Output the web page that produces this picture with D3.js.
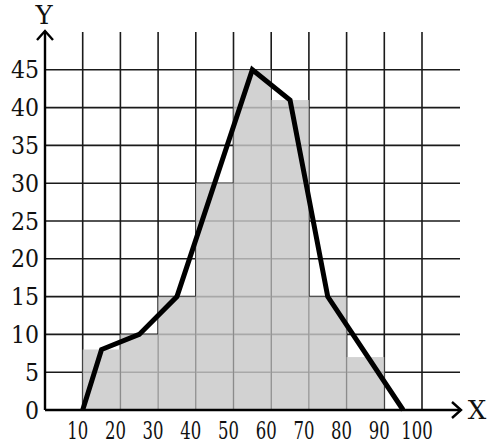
<!DOCTYPE html>
<html>
<head>
<meta charset="utf-8">
<script src="https://cdn.jsdelivr.net/npm/d3@7"></script>
<style>
  body { margin: 0; background: #fff; }
  text { font-family: "DejaVu Serif", "Liberation Serif", serif; fill: #111; }
</style>
</head>
<body>
<svg id="chart"></svg>
<script>
// histogram classes and counts
var binStarts = [10, 20, 30, 40, 50, 60, 70, 80],
  binCounts = [8, 10, 15, 30, 45, 41, 15, 7];

// frequency polygon
var polyX = [10, 15, 25, 35, 55, 65, 75, 95],
  polyY = [0, 8, 10, 15, 45, 41, 15, 0];

var xTicks = [10, 20, 30, 40, 50, 60, 70, 80, 90, 100],
  yTicks = [0, 5, 10, 15, 20, 25, 30, 35, 40, 45];

var vWidth = 488,
  vHeight = 448;

var x = d3.scaleLinear().domain([0, 100]).range([45, 422]);
var y = d3.scaleLinear().domain([0, 50]).range([410, 32]);

var svg = d3.select('#chart')
  .attr('width', vWidth)
  .attr('height', vHeight);

// grid
svg.append('g').selectAll('line')
  .data(xTicks)
  .enter().append('line')
  .attr('x1', function(d) { return x(d); })
  .attr('x2', function(d) { return x(d); })
  .attr('y1', y(50))
  .attr('y2', y(0))
  .attr('stroke', '#1a1a1a')
  .attr('stroke-width', 1.6);

svg.append('g').selectAll('line')
  .data(yTicks.filter(function(d) { return d > 0; }))
  .enter().append('line')
  .attr('x1', x(0))
  .attr('x2', 460)
  .attr('y1', function(d) { return y(d); })
  .attr('y2', function(d) { return y(d); })
  .attr('stroke', '#1a1a1a')
  .attr('stroke-width', 1.6);

// bars (grid shows through a bit)
svg.append('g').selectAll('rect')
  .data(binStarts)
  .enter().append('rect')
  .attr('x', function(d) { return x(d); })
  .attr('width', function(d) { return x(d + 10) - x(d); })
  .attr('y', function(d, i) { return y(binCounts[i]); })
  .attr('height', function(d, i) { return y(0) - y(binCounts[i]); })
  .attr('fill', 'rgb(200,200,200)')
  .attr('fill-opacity', 0.82);

// axes
svg.append('line')
  .attr('x1', x(0)).attr('x2', 461)
  .attr('y1', y(0)).attr('y2', y(0))
  .attr('stroke', '#000').attr('stroke-width', 2.4);
svg.append('path')
  .attr('d', 'M452,402 L461,' + y(0) + ' L452,418')
  .attr('fill', 'none').attr('stroke', '#000').attr('stroke-width', 2.4);

svg.append('line')
  .attr('x1', x(0)).attr('x2', x(0))
  .attr('y1', y(0)).attr('y2', 31)
  .attr('stroke', '#000').attr('stroke-width', 2.4);
svg.append('path')
  .attr('d', 'M37,40 L' + x(0) + ',31 L53,40')
  .attr('fill', 'none').attr('stroke', '#000').attr('stroke-width', 2.4);

// frequency polygon
var line = d3.line()
  .x(function(d) { return x(d[0]); })
  .y(function(d) { return y(d[1]); });

svg.append('path')
  .datum(polyX.map(function(d, i) { return [d, polyY[i]]; }))
  .attr('d', line)
  .attr('fill', 'none')
  .attr('stroke', '#000')
  .attr('stroke-width', 5)
  .attr('stroke-linejoin', 'miter');

// tick labels
svg.append('g').selectAll('text')
  .data(yTicks)
  .enter().append('text')
  .attr('transform', function(d) { return 'translate(39,' + y(d) + ') scale(0.92,1)'; })
  .attr('dy', '0.36em')
  .attr('text-anchor', 'end')
  .style('font-size', '24px')
  .text(function(d) { return d; });

svg.append('g').selectAll('text')
  .data(xTicks)
  .enter().append('text')
  .attr('transform', function(d) { return 'translate(' + (x(d) - 5) + ',439) scale(0.66,1)'; })
  .attr('text-anchor', 'middle')
  .style('font-size', '25px')
  .text(function(d) { return d; });

// axis names
svg.append('text')
  .attr('x', 44).attr('y', 24)
  .attr('text-anchor', 'middle')
  .style('font-size', '26px')
  .text('Y');
svg.append('text')
  .attr('x', 477).attr('y', 419)
  .attr('text-anchor', 'middle')
  .style('font-size', '26px')
  .text('X');
</script>
</body>
</html>
